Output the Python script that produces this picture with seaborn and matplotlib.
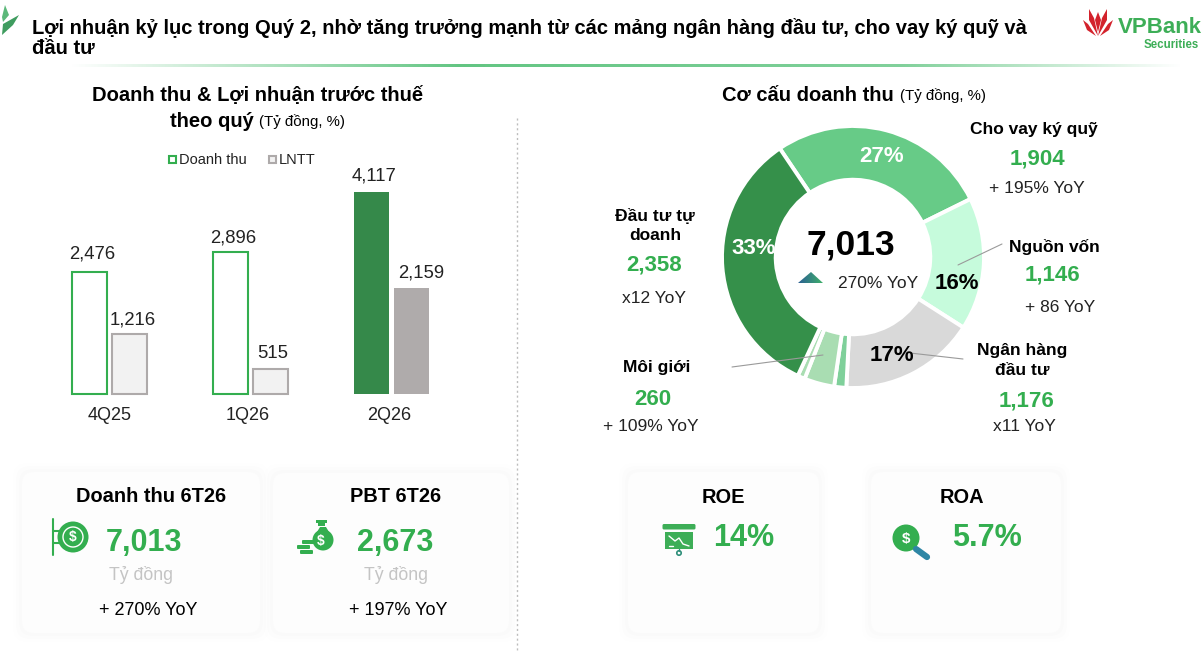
import numpy as np
import pandas as pd
import matplotlib
matplotlib.use("Agg")
import matplotlib.pyplot as plt
from matplotlib.patches import FancyBboxPatch, Polygon, Circle, Rectangle
from matplotlib.transforms import ScaledTranslation
import seaborn as sns

# ---- data ----
quarters = ["4Q25", "1Q26", "2Q26"]
revenue = [2476, 2896, 4117]
pbt = [1216, 515, 2159]

segments = ["Cho vay ký quỹ", "Nguồn vốn", "Ngân hàng đầu tư", "Khác", "Môi giới", "Khác 2", "Đầu tư tự doanh"]
segment_values = [1904, 1146, 1176, 105, 260, 64, 2358]
segment_colors = ["#67CB87", "#C6FBDC", "#D9D9D9", "#7FD09A", "#A9DDB2", "#A9DDB2", "#35904A"]

W, H = 1204, 660
GREEN = "#33AE4F"

sns.set_theme(style="white")
plt.rcParams["font.family"] = ["Liberation Sans", "DejaVu Sans"]

fig = plt.figure(figsize=(W / 100, H / 100), dpi=100, facecolor="white")


def box(x0, y0, x1, y1):
    """Axes rectangle from pixel corners, y measured from the top."""
    return [x0 / W, 1 - y1 / H, (x1 - x0) / W, (y1 - y0) / H]


# Page layer in pixel coordinates
page = fig.add_axes([0, 0, 1, 1], zorder=1)
page.set_xlim(0, W)
page.set_ylim(H, 0)
page.axis("off")
over = fig.add_axes([0, 0, 1, 1], zorder=5)
over.set_xlim(0, W)
over.set_ylim(H, 0)
over.axis("off")
over.patch.set_alpha(0)


def T(x, y, s, size=13, bold=False, color="black", ha="center", layer=over):
    layer.text(x, y + 1.5, s, fontsize=size, fontweight="bold" if bold else "normal",
               color=color, ha=ha, va="center")


# ---- header ----
T(32, 26, "Lợi nhuận kỷ lục trong Quý 2, nhờ tăng trưởng mạnh từ các mảng ngân hàng đầu tư, cho vay ký quỹ và",
  14.5, True, ha="left")
T(32, 47, "đầu tư", 14.5, True, ha="left")

# Rule below the header, fading out at both ends
xs = np.linspace(0, 1, 600)
alpha = np.interp(xs, [0, 0.35, 0.75, 1], [0, 1, 0.8, 0])
rgba = np.zeros((1, 600, 4))
rgba[..., :3] = matplotlib.colors.to_rgb("#62C582")
rgba[..., 3] = alpha
page.imshow(rgba, extent=(70, 1182, 67.5, 64.5), aspect="auto", zorder=2)
page.set_xlim(0, W)
page.set_ylim(H, 0)

# Leaf mark, top left
over.add_patch(Polygon([(2, 17), (5, 5), (9, 15), (3, 22)], color="#5CB87A", lw=0))
over.add_patch(Polygon([(2, 35), (3, 24), (19, 15), (13, 25)], color="#3F9C5F", lw=0))

# Company mark, top right
red = "#D3222C"
for pts in ([(1098, 36), (1094, 18), (1089, 9), (1089, 20)],
            [(1098, 36), (1102, 18), (1107, 9), (1107, 20)],
            [(1096, 36), (1088, 24), (1083, 20), (1087, 30)],
            [(1100, 36), (1108, 24), (1113, 20), (1109, 30)],
            [(1098, 32), (1095, 20), (1098, 12), (1101, 20)]):
    over.add_patch(Polygon(pts, color=red, lw=0))
T(1118, 26, "VPBank", 16, True, "#3DAE57", ha="left")
T(1199, 43, "Securities", 8.3, True, "#3DAE57", ha="right")

# Divider between the two halves
page.plot([517, 517], [118, 650], color="#BDBDBD", lw=1, ls=(0, (1.5, 2)))

# ---- section headings ----
T(258, 94, "Doanh thu & Lợi nhuận trước thuế", 14.5, True)
T(212, 120, "theo quý", 14.5, True)
T(259, 120, "(Tỷ đồng, %)", 10.8, ha="left")
T(722, 94, "Cơ cấu doanh thu", 14.5, True, ha="left")
T(900, 94.5, "(Tỷ đồng, %)", 10.8, ha="left")

# ---- quarterly bars ----
frame = pd.DataFrame({
    "quarter": quarters * 2,
    "value": revenue + pbt,
    "series": ["Doanh thu"] * 3 + ["LNTT"] * 3,
})
bars_ax = fig.add_axes(box(39, 130, 462, 394), zorder=2)
bars_ax.patch.set_alpha(0)
sns.barplot(data=frame, x="quarter", y="value", hue="series", ax=bars_ax,
            width=0.567, gap=0.125, legend=False, errorbar=None)
bars_ax.set_ylim(0, 264 / 0.0491)
bars_ax.set_xlabel("")
bars_ax.set_ylabel("")
bars_ax.set_yticks([])
bars_ax.tick_params(axis="x", length=0, pad=9, labelsize=13, labelcolor="#222222")
sns.despine(ax=bars_ax, left=True, bottom=True)
for lab, dx in zip(bars_ax.get_xticklabels(), [0, -3, -2.5]):
    lab.set_transform(lab.get_transform() + ScaledTranslation(dx / 100, 0, fig.dpi_scale_trans))

rev_styles = [("white", GREEN), ("white", GREEN), ("#35894A", "#35894A")]
pbt_styles = [("#F2F2F2", "#AEAAAA"), ("#F2F2F2", "#AEAAAA"), ("#AFABAB", "#AFABAB")]
label_shift = [[3, 3, 2], [3, 2, 10]]
label_rise = [[10, 5, 7], [6, 7, 6]]
for k, (container, styles, vals) in enumerate(zip(bars_ax.containers, (rev_styles, pbt_styles), (revenue, pbt))):
    for j, (bar, (face, edge), v) in enumerate(zip(container, styles, vals)):
        bar.set_facecolor(face)
        bar.set_edgecolor(edge)
        bar.set_linewidth(1.5 if j < 2 else 0)
        bar.set_clip_on(False)
        bars_ax.annotate(f"{v:,}", (bar.get_x() + bar.get_width() / 2, v),
                         xytext=(label_shift[k][j], label_rise[k][j]), textcoords="offset pixels",
                         ha="center", va="bottom", fontsize=13.3, color="#222222")

# Legend swatches
page.add_patch(Rectangle((168.5, 156), 7, 7, fc="white", ec=GREEN, lw=1.5))
T(179, 159, "Doanh thu", 10.5, ha="left", color="#222222")
page.add_patch(Rectangle((268.5, 156), 7, 7, fc="#F2F2F2", ec="#AEAAAA", lw=1.5))
T(279, 159, "LNTT", 10.5, ha="left", color="#222222")

# ---- revenue mix donut ----
donut = fig.add_axes(box(722, 126, 984, 388), zorder=2)
donut.patch.set_alpha(0)
donut.pie(segment_values, colors=segment_colors, startangle=124, counterclock=False,
          radius=1, wedgeprops=dict(width=0.41, edgecolor="white", linewidth=2.8))
donut.set_xlim(-1, 1)
donut.set_ylim(-1, 1)

T(882, 155, "27%", 16, True, "white")
T(957, 282, "16%", 16, True)
T(892, 354, "17%", 16, True)
T(754, 247, "33%", 16, True, "white")

T(851, 243, "7,013", 25.5, True)
T(878, 282, "270% YoY", 12.5, color="#222222")

# Small rising marker beside the YoY figure
tri = Polygon([(798, 283), (811, 272), (823, 283)], transform=over.transData, fc="none", lw=0)
over.add_patch(tri)
tri_grad = np.linspace(0, 1, 64)[None, :]
img = over.imshow(tri_grad, extent=(798, 823, 283, 272), aspect="auto",
                  cmap=matplotlib.colors.LinearSegmentedColormap.from_list("m", ["#2B5F93", "#3FB06B"]))
img.set_clip_path(tri)
over.set_xlim(0, W)
over.set_ylim(H, 0)

# Leader lines from the callouts into the ring
for xa, ya, xb, yb in [(958, 265, 1002, 244), (910, 353, 963, 359), (732, 367, 823, 355)]:
    over.plot([xa, xb], [ya, yb], color="#9A9A9A", lw=0.8)

# Callouts
T(1034, 128, "Cho vay ký quỹ", 12.5, True)
T(1037, 157, "1,904", 16, True, GREEN)
T(1037, 187, "+ 195% YoY", 12.5, color="#222222")

T(1054, 245.5, "Nguồn vốn", 12.5, True)
T(1052, 273, "1,146", 16, True, GREEN)
T(1060, 306, "+ 86 YoY", 12.5, color="#222222")

T(1022, 349, "Ngân hàng", 12.5, True)
T(1022, 369, "đầu tư", 12.5, True)
T(1026, 399, "1,176", 16, True, GREEN)
T(1024, 425, "x11 YoY", 12.5, color="#222222")

T(655, 214, "Đầu tư tự", 12.5, True)
T(655, 234, "doanh", 12.5, True)
T(654, 264, "2,358", 16, True, GREEN)
T(654, 297, "x12 YoY", 12.5, color="#222222")

T(657, 366, "Môi giới", 12.5, True)
T(653, 398, "260", 16, True, GREEN)
T(651, 425, "+ 109% YoY", 12.5, color="#222222")


# ---- metric cards ----
def card(x0, y0, x1, y1):
    w, h = x1 - x0, y1 - y0
    for grow, a in [(9, 0.005), (6, 0.007), (3, 0.009)]:
        page.add_patch(FancyBboxPatch((x0 - grow + 12, y0 - grow + 12), w + 2 * grow - 24, h + 2 * grow - 24,
                                      boxstyle="round,pad=12,rounding_size=14", fc="black", ec="none", alpha=a, zorder=1))
    page.add_patch(FancyBboxPatch((x0 + 12, y0 + 12), w - 24, h - 24, boxstyle="round,pad=12,rounding_size=12",
                                  fc="#FDFDFD", ec="none", zorder=1.5))


card(22, 472, 260, 633)
card(273, 473, 509, 633)
card(628, 472, 819, 633)
card(871, 472, 1061, 633)

T(151, 495, "Doanh thu 6T26", 14.4, True)
T(144, 541, "7,013", 22, True, GREEN)
T(141, 573, "Tỷ đồng", 12.8, color="#C4C4C4")
T(148, 609, "+ 270% YoY", 13)

T(396, 495, "PBT 6T26", 14.4, True)
T(395, 541, "2,673", 22, True, GREEN)
T(396, 573, "Tỷ đồng", 12.8, color="#C4C4C4")
T(398, 609, "+ 197% YoY", 13)

T(723, 496, "ROE", 14.4, True)
T(744, 536, "14%", 22, True, GREEN)
T(962, 496, "ROA", 14.4, True)
T(987, 536, "5.7%", 22, True, GREEN)

# Icon: hanging coin sign
over.plot([53, 53], [519, 555], color=GREEN, lw=1.5)
over.plot([53, 62], [531, 531], color=GREEN, lw=1.5)
over.plot([53, 62], [543, 543], color=GREEN, lw=1.5)
over.add_patch(Circle((73, 537), 15.5, color=GREEN, lw=0))
over.add_patch(Circle((73, 537), 10, fc="none", ec="white", lw=1))
T(73, 536, "$", 10, True, "white")

# Icon: money bag and coins
over.add_patch(Circle((323, 540), 10.5, color=GREEN, lw=0))
over.add_patch(Polygon([(317, 532), (320, 527), (326, 527), (329, 532)], color=GREEN, lw=0))
over.add_patch(Rectangle((316, 520), 11, 2.5, color=GREEN, lw=0))
over.add_patch(Rectangle((318, 523), 7, 3, color=GREEN, lw=0))
T(321, 539, "$", 10, True, "white")
for xc, yc in ((303, 542), (298, 547), (301, 552)):
    over.add_patch(FancyBboxPatch((xc, yc - 1), 11, 2, boxstyle="round,pad=1", color=GREEN, lw=0))

# Icon: presentation board with a falling line
over.add_patch(FancyBboxPatch((664, 525.5), 30, 2.5, boxstyle="round,pad=1.5", color="#3DAE57", lw=0))
over.add_patch(Rectangle((665, 532), 28, 17, color="#3DAE57", lw=0))
over.plot([669, 675, 679, 683, 689], [536, 541, 538, 544, 546], color="white", lw=1)
over.plot([669, 673], [546, 546], color="white", lw=1)
over.plot([679, 679], [549, 551], color="#2F8F7A", lw=1)
over.add_patch(Circle((679, 553), 2.2, fc="white", ec="#2F8F7A", lw=1.2))

# Icon: magnifier over a coin
over.plot([916, 927], [549, 557], color="#2E86A5", lw=4.5, solid_capstyle="round")
over.add_patch(Circle((906, 538), 13.5, color=GREEN, lw=0))
T(906, 537, "$", 11, True, "white")

fig.savefig("out.png", dpi=100, facecolor="white")
